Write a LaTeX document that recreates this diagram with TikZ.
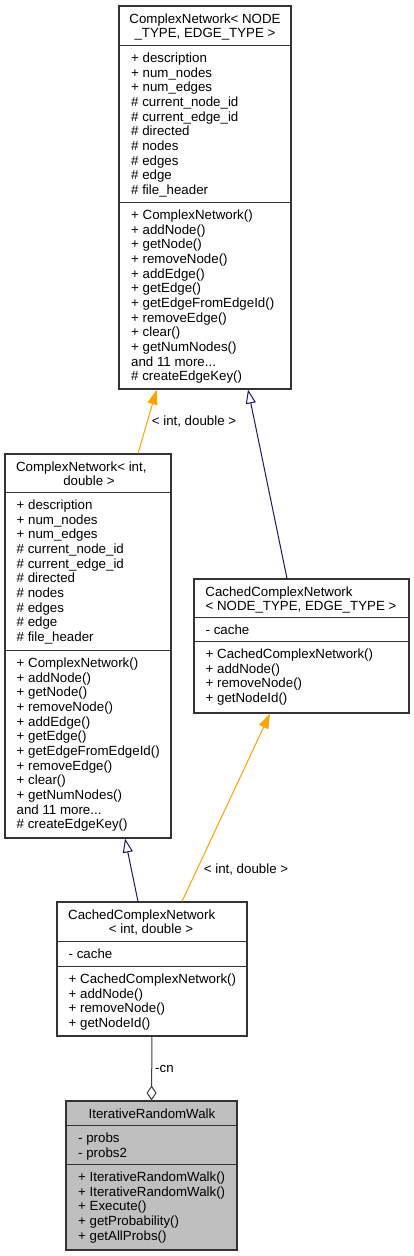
\documentclass[tikz,border=0pt]{standalone}
\usepackage{fontspec}
\setmainfont{Liberation Sans}
\usetikzlibrary{arrows.meta}
\definecolor{edgenavy}{HTML}{191970}
\definecolor{edgeorange}{HTML}{FFA500}
\definecolor{agggray}{HTML}{404040}
\definecolor{boxline}{HTML}{333333}
\definecolor{focusfill}{HTML}{BFBFBF}
\newcommand\tripledots{...}
\newcommand\memberlist[4]{%
  \foreach \t [count=\i] in {#4}
    \node[member] (#1\i) at (#2, {#3+14.65*(\i-1)}) {\t};}
\begin{document}
\begin{tikzpicture}[x=1pt,y=-1pt,
  txt/.style={font=\fontsize{13.3}{14.65}\selectfont, inner sep=0pt},
  member/.style={txt, anchor=base west},
  titleline/.style={txt, anchor=base},
  classbox/.style={draw=boxline, line width=1.1pt, fill=white, rectangle, inner sep=0pt},
  focusbox/.style={classbox, fill=focusfill},
  divider/.style={draw=boxline, line width=1.1pt},
  inherit/.style={draw=edgenavy, line width=1pt, -{Triangle[open, length=14pt, width=10pt]}},
  templ/.style={draw=edgeorange, line width=1pt, -{Triangle[length=15pt, width=10pt]}, fill=edgeorange},
  aggr/.style={draw=agggray, line width=1pt, -{Diamond[open, length=15pt, width=10pt]}},
  elabel/.style={txt, anchor=base}]
\path[use as bounding box, fill=white] (0,0) rectangle (413,1256);

% ---- boxes
\node[classbox, minimum width=172pt, minimum height=383pt] (A) at (205,197.5) {};
\node[classbox, minimum width=166pt, minimum height=384pt] (B) at (88,646) {};
\node[classbox, minimum width=215pt, minimum height=134pt] (C) at (301.5,646) {};
\node[classbox, minimum width=190pt, minimum height=134pt] (D) at (152,969) {};
\node[focusbox, minimum width=171pt, minimum height=149pt] (E) at (151.5,1175.5) {};

% ---- dividers
\draw[divider] ([yshift=-40pt]A.north west) -- ([yshift=-40pt]A.north east);
\draw[divider] ([yshift=-197pt]A.north west) -- ([yshift=-197pt]A.north east);
\draw[divider] ([yshift=-39pt]B.north west) -- ([yshift=-39pt]B.north east);
\draw[divider] ([yshift=-197pt]B.north west) -- ([yshift=-197pt]B.north east);
\draw[divider] ([yshift=-39pt]C.north west) -- ([yshift=-39pt]C.north east);
\draw[divider] ([yshift=-63pt]C.north west) -- ([yshift=-63pt]C.north east);
\draw[divider] ([yshift=-40pt]D.north west) -- ([yshift=-40pt]D.north east);
\draw[divider] ([yshift=-65pt]D.north west) -- ([yshift=-65pt]D.north east);
\draw[divider] ([yshift=-25pt]E.north west) -- ([yshift=-25pt]E.north east);
\draw[divider] ([yshift=-64pt]E.north west) -- ([yshift=-64pt]E.north east);

% ---- A
\node[titleline] (At1) at (205,23) {ComplexNetwork< NODE};
\node[titleline] (At2) at (205,37.65) {\_TYPE, EDGE\_TYPE >};
\memberlist{Aa}{131}{62.5}{+ description, + num\_nodes, + num\_edges, \# current\_node\_id, \# current\_edge\_id, \# directed, \# nodes, \# edges, \# edge, \# file\_header}
\memberlist{Am}{131}{219.5}{+ ComplexNetwork(), + addNode(), + getNode(), + removeNode(), + addEdge(), + getEdge(), + getEdgeFromEdgeId(), + removeEdge(), + clear(), + getNumNodes(), and 11 more\tripledots, \# createEdgeKey()}

% ---- B
\node[titleline] (Bt1) at (81.3,471) {ComplexNetwork< int,};
\node[titleline] (Bt2) at (89,485.65) {double >};
\memberlist{Ba}{16.5}{509.5}{+ description, + num\_nodes, + num\_edges, \# current\_node\_id, \# current\_edge\_id, \# directed, \# nodes, \# edges, \# edge, \# file\_header}
\memberlist{Bm}{16.5}{667.5}{+ ComplexNetwork(), + addNode(), + getNode(), + removeNode(), + addEdge(), + getEdge(), + getEdgeFromEdgeId(), + removeEdge(), + clear(), + getNumNodes(), and 11 more\tripledots, \# createEdgeKey()}

% ---- C
\node[titleline] (Ct1) at (279,596) {CachedComplexNetwork};
\node[titleline] (Ct2) at (301,610.65) {< NODE\_TYPE, EDGE\_TYPE >};
\memberlist{Ca}{205.5}{634.5}{- cache}
\memberlist{Cm}{205.5}{658.5}{+ CachedComplexNetwork(), + addNode(), + removeNode(), + getNodeId()}

% ---- D
\node[titleline] (Dt1) at (141.7,919) {CachedComplexNetwork};
\node[titleline] (Dt2) at (151,933.65) {< int, double >};
\memberlist{Da}{68.5}{958.5}{- cache}
\memberlist{Dm}{68.5}{983.5}{+ CachedComplexNetwork(), + addNode(), + removeNode(), + getNodeId()}

% ---- E
\node[titleline] (Et1) at (152,1118) {IterativeRandomWalk};
\memberlist{Ea}{78}{1142.5}{- probs, - probs2}
\memberlist{Em}{78}{1181.5}{+ IterativeRandomWalk(), + IterativeRandomWalk(), + Execute(), + getProbability(), + getAllProbs()}

% ---- connectors
\draw[templ] ([xshift=50pt]B.north) -- ([xshift=-48.3pt]A.south);
\node[elabel] (lab1) at (194,425) {< int, double >};
\draw[inherit] ([xshift=-14.5pt]C.north) -- ([xshift=43pt]A.south);
\draw[inherit] ([xshift=-14pt]D.north) -- ([xshift=37pt]B.south);
\draw[templ] ([xshift=30pt]D.north) -- ([xshift=-31.5pt]C.south);
\node[elabel] (lab2) at (246,873) {< int, double >};
\draw[aggr] (D.south) -- (E.north);
\node[txt, anchor=base west] (lab3) at (155,1072) {-cn};
\end{tikzpicture}
\end{document}
